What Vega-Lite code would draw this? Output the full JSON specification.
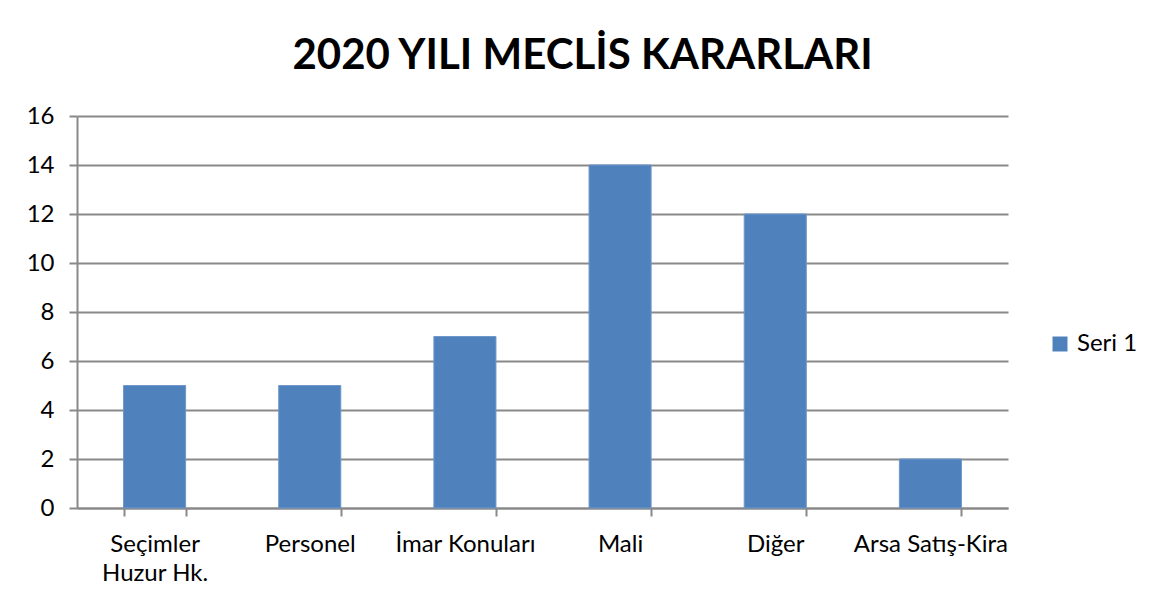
{
  "$schema": "https://vega.github.io/schema/vega-lite/v6.json",
  "autosize": "none",
  "width": 931,
  "height": 392,
  "padding": {"left": 77, "top": 116, "right": 144, "bottom": 97},
  "background": "white",
  "title": {
    "text": "2020 YILI MECLİS KARARLARI",
    "font": "Lato",
    "fontSize": 42,
    "fontWeight": "bold",
    "color": "#000000",
    "anchor": "middle",
    "dx": 40,
    "offset": 26
  },
  "data": {
    "values": [
      {"kategori": "Seçimler Huzur Hk.", "deger": 5, "seri": "Seri 1"},
      {"kategori": "Personel", "deger": 5, "seri": "Seri 1"},
      {"kategori": "İmar Konuları", "deger": 7, "seri": "Seri 1"},
      {"kategori": "Mali", "deger": 14, "seri": "Seri 1"},
      {"kategori": "Diğer", "deger": 12, "seri": "Seri 1"},
      {"kategori": "Arsa Satış-Kira", "deger": 2, "seri": "Seri 1"}
    ]
  },
  "mark": {"type": "bar", "stroke": "#6F97C9", "strokeWidth": 1},
  "encoding": {
    "x": {
      "field": "kategori",
      "type": "nominal",
      "sort": null,
      "scale": {"paddingInner": 0.6, "paddingOuter": 0.3},
      "axis": {
        "title": null,
        "labelAngle": 0,
        "labelFont": "Lato",
        "labelFontSize": 24,
        "labelColor": "#000000",
        "labelPadding": 16,
        "labelLineHeight": 29,
        "labelExpr": "datum.label == 'Seçimler Huzur Hk.' ? ['Seçimler', 'Huzur Hk.'] : datum.label",
        "tickBand": "extent",
        "tickSize": 8,
        "tickColor": "#898989",
        "tickWidth": 2,
        "domainColor": "#898989",
        "domainWidth": 2,
        "grid": false
      }
    },
    "y": {
      "field": "deger",
      "type": "quantitative",
      "scale": {"domain": [0, 16], "nice": false},
      "axis": {
        "title": null,
        "values": [0, 2, 4, 6, 8, 10, 12, 14, 16],
        "labelFont": "Lato",
        "labelFontSize": 24,
        "labelColor": "#000000",
        "labelPadding": 15,
        "tickSize": 8,
        "tickColor": "#898989",
        "tickWidth": 2,
        "domainColor": "#898989",
        "domainWidth": 2,
        "grid": true,
        "gridColor": "#898989",
        "gridWidth": 2
      }
    },
    "color": {
      "field": "seri",
      "type": "nominal",
      "scale": {"range": ["#4F81BD"]},
      "legend": {
        "title": null,
        "orient": "none",
        "legendX": 971,
        "legendY": 216,
        "symbolType": "square",
        "symbolSize": 225,
        "symbolStrokeWidth": 0,
        "labelFont": "Lato",
        "labelFontSize": 24,
        "labelColor": "#000000",
        "labelOffset": 5
      }
    }
  },
  "config": {
    "view": {"stroke": null}
  }
}
